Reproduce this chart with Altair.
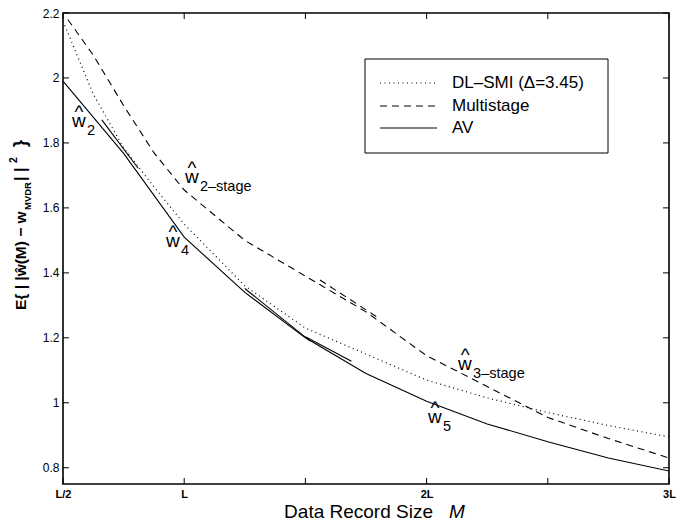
import altair as alt
import pandas as pd

# ---------------- data (M in units of L) ----------------
AV_M = [0.5, 0.75, 1.0, 1.25, 1.5, 1.75, 2.0, 2.25, 2.5, 2.75, 3.0]
AV_E = [1.99, 1.768, 1.51, 1.34, 1.20, 1.09, 1.005, 0.935, 0.88, 0.83, 0.79]

DL_M = [0.5, 0.625, 0.75, 0.875, 1.0, 1.25, 1.5, 1.75, 2.0, 2.25, 2.5, 2.75, 3.0]
DL_E = [2.175, 1.95, 1.785, 1.665, 1.55, 1.36, 1.23, 1.15, 1.07, 1.015, 0.97, 0.93, 0.895]

MS_M = [0.52, 0.625, 0.75, 0.875, 1.0, 1.25, 1.5, 1.75, 2.0, 2.25, 2.5, 2.75, 3.0]
MS_E = [2.18, 2.07, 1.915, 1.77, 1.655, 1.50, 1.39, 1.28, 1.145, 1.05, 0.955, 0.89, 0.83]

# short individual-estimator pieces
SEG_SOLID = [
    ([0.66, 0.81], [1.871, 1.722]),
    ([1.25, 1.52], [1.352, 1.19]),
    ([1.50, 1.69], [1.203, 1.128]),
]
SEG_DASH = [([1.56, 1.80], [1.378, 1.262])]

X_TICKS = [0.5, 1.0, 1.5, 2.0, 2.5, 3.0]
Y_TICKS = [0.8, 1.0, 1.2, 1.4, 1.6, 1.8, 2.0, 2.2]

LABEL_M = [0.537, 1.003, 0.925, 2.13, 2.006]
LABEL_E = [1.849, 1.677, 1.48, 1.102, 0.938]
LABEL_SUB = ["2", "2\u2013stage", "4", "3\u2013stage", "5"]

LEGEND_NAMES = ["DL\u2013SMI (\u0394=3.45)", "Multistage", "AV"]

# ---------------- layout ----------------
W, H = 606, 471
FONT = "Liberation Sans"

xs = alt.Scale(domain=[0.5, 3.0], nice=False, zero=False)
ys = alt.Scale(domain=[0.75, 2.2], nice=False, zero=False)

xaxis = alt.Axis(
    values=X_TICKS, title=None, domain=False, ticks=False, grid=False,
    labelExpr="datum.value == 0.5 ? 'L/2' : datum.value == 1 ? 'L' : datum.value == 2 ? '2L' : datum.value == 3 ? '3L' : ''",
    labelFont=FONT, labelFontSize=11, labelFontWeight="bold", labelColor="black",
    labelPadding=4, labelFlush=False, labelOverlap=False,
)
yaxis = alt.Axis(
    values=Y_TICKS, title=None, domain=False, ticks=False, grid=False,
    format=".2~g", labelFont=FONT, labelFontSize=12, labelColor="black",
    labelPadding=4, labelFlush=False, labelOverlap=False,
)

X = alt.X("x:Q", scale=xs, axis=xaxis)
Y = alt.Y("y:Q", scale=ys, axis=yaxis)


def line(mx, my, dash=None, width=1.1):
    df = pd.DataFrame({"x": mx, "y": my, "o": list(range(len(mx)))})
    kw = dict(color="black", strokeWidth=width, clip=True)
    if dash:
        kw["strokeDash"] = dash
    return alt.Chart(df).mark_line(**kw).encode(x=X, y=Y, order="o:Q")


DOT = [1, 3.5]
DASH = [7, 5]

layers = [
    line(DL_M, DL_E, DOT, 1.2),
    line(MS_M, MS_E, DASH),
    line(AV_M, AV_E),
]
for mx, my in SEG_SOLID:
    layers.append(line(mx, my))
for mx, my in SEG_DASH:
    layers.append(line(mx, my, DASH))

# inward ticks
xt = pd.DataFrame({"x": X_TICKS})
yt = pd.DataFrame({"y": Y_TICKS})
TL = 6
layers += [
    alt.Chart(xt).mark_rule(color="black", strokeWidth=1).encode(x=X, y=alt.value(H - TL), y2=alt.value(H)),
    alt.Chart(xt).mark_rule(color="black", strokeWidth=1).encode(x=X, y=alt.value(0), y2=alt.value(TL)),
    alt.Chart(yt).mark_rule(color="black", strokeWidth=1).encode(y=Y, x=alt.value(0), x2=alt.value(TL)),
    alt.Chart(yt).mark_rule(color="black", strokeWidth=1).encode(y=Y, x=alt.value(W - TL), x2=alt.value(W)),
]

# estimator labels (w-hat with subscripts)
lab = pd.DataFrame({"x": LABEL_M, "y": LABEL_E, "sub": LABEL_SUB})
layers += [
    alt.Chart(lab).mark_text(font=FONT, fontSize=19, align="left", baseline="alphabetic", color="black")
    .encode(x=X, y=Y, text=alt.value("w")),
    alt.Chart(lab).mark_text(font=FONT, fontSize=19, align="center", baseline="alphabetic", color="black", dx=7, dy=-9)
    .encode(x=X, y=Y, text=alt.value("^")),
    alt.Chart(lab).mark_text(font=FONT, fontSize=14.5, align="left", baseline="alphabetic", color="black", dx=15, dy=8)
    .encode(x=X, y=Y, text="sub:N"),
]

one = pd.DataFrame({"k": [0]})

# legend box
LX0, LY0, LX1, LY1 = 302, 46, 545, 140
layers.append(
    alt.Chart(one).mark_rect(fill="white", stroke="black", strokeWidth=1)
    .encode(x=alt.value(LX0), x2=alt.value(LX1), y=alt.value(LY0), y2=alt.value(LY1))
)
ROWS = [70, 93, 115]
DASHES = [DOT, DASH, None]
for name, ry, d in zip(LEGEND_NAMES, ROWS, DASHES):
    kw = dict(color="black", strokeWidth=1.1)
    if d:
        kw["strokeDash"] = d
    layers.append(
        alt.Chart(one).mark_rule(**kw)
        .encode(x=alt.value(317), x2=alt.value(374), y=alt.value(ry))
    )
    layers.append(
        alt.Chart(one).mark_text(font=FONT, fontSize=17, align="left", baseline="middle", color="black")
        .encode(x=alt.value(389), y=alt.value(ry), text=alt.value(name))
    )

# x title
layers += [
    alt.Chart(one).mark_text(font=FONT, fontSize=19, align="right", baseline="alphabetic", color="black")
    .encode(x=alt.value(433 - 63), y=alt.value(518 - 13), text=alt.value("Data Record Size")),
    alt.Chart(one).mark_text(font=FONT, fontSize=19, fontStyle="italic", align="left", baseline="alphabetic", color="black")
    .encode(x=alt.value(449 - 63), y=alt.value(518 - 13), text=alt.value("M")),
]

# y title pieces (rotated)
YT = [
    ("E{ | |\u0175(M) \u2212 w", 15.5, 26, 310),
    ("MVDR", 9.5, 31, 210),
    ("| |", 16, 26, 181),
    ("2", 10.5, 17, 163),
    ("}", 18, 26, 147),
]
for txt, fs, px, py in YT:
    layers.append(
        alt.Chart(one).mark_text(font=FONT, fontSize=fs, fontWeight="bold", angle=270,
                                 align="left", baseline="alphabetic", color="black")
        .encode(x=alt.value(px - 63), y=alt.value(py - 13), text=alt.value(txt))
    )

chart = alt.layer(*layers).properties(
    width=W, height=H,
    autosize=alt.AutoSizeParams(type="none"),
    padding={"left": 63, "top": 13, "right": 686 - 63 - W, "bottom": 521 - 13 - H},
    background="white",
).configure_view(stroke="black", strokeWidth=1.6)

chart.save("out.html", embed_options={"renderer": "svg", "actions": False})
